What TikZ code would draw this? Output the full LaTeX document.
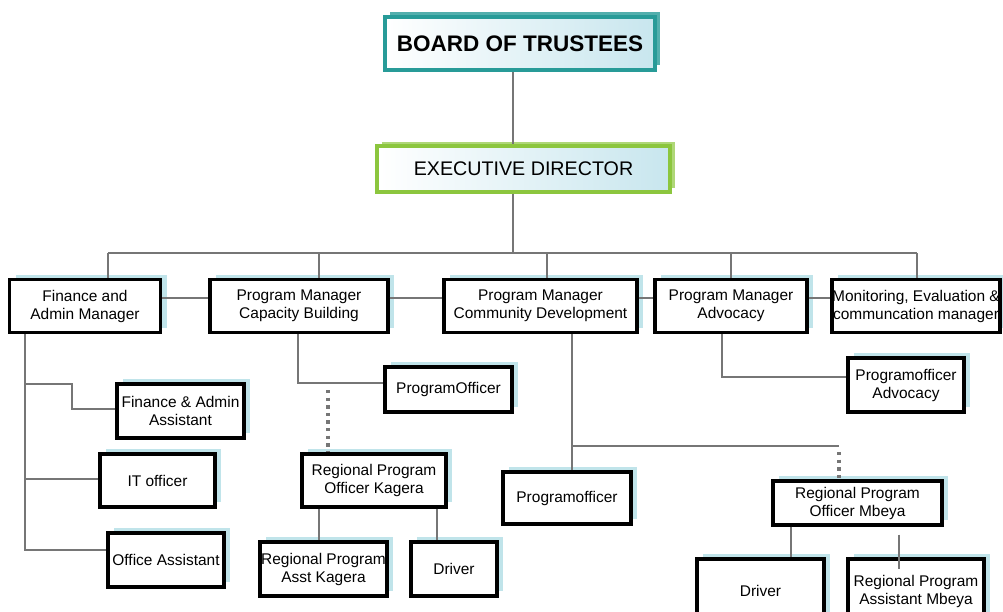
\documentclass[tikz,border=0pt]{standalone}
\usepackage{fontspec}
\setmainfont{Liberation Sans}
\usepackage{tikz}
\usetikzlibrary{positioning, calc, shadows}
\definecolor{shadowblue}{RGB}{192,228,234}
\definecolor{topblue}{RGB}{200,230,238}
\definecolor{boardteal}{RGB}{40,155,152}
\definecolor{execgreen}{RGB}{140,198,62}
\definecolor{linegray}{RGB}{118,118,118}
\tikzset{boxsize/.style 2 args = {
  minimum width=#1*0.025cm,
  minimum height=#2*0.025cm
  }}
\tikzset{rect/.style = {
  rectangle,
  draw=black, line width=2.3pt,
  fill=white,
  text centered, align=center,
  inner xsep=0pt, inner ysep=2pt,
  font=\fontsize{11}{12.8}\selectfont
  }}
\tikzset{block/.style = {
  % Rectangle:
  rect,
  drop shadow={shadow xshift=0.15cm, shadow yshift=0.12cm,
    fill=shadowblue, opacity=1}
  % Text
  }}
\tikzset{head/.style = {
  % Rectangle:
  rect,
  left color=white, right color=topblue,
  line width=2.6pt
  % Text
  }}
\tikzset{link/.style = {
  draw=linegray,
  line width=2pt
  }}
\tikzset{dots/.style = {
  link,
  line width=2.4pt,
  dash pattern=on 2.4pt off 3pt
  }}

\begin{document}
\begin{tikzpicture}[x=0.025cm, y=-0.025cm]
\useasboundingbox (0,0) rectangle (1003,611);
\clip (0,0) rectangle (1003,611);

% NODES
\node (board) [head, boxsize={270}{53}, draw=boardteal,
  drop shadow={shadow xshift=0.12cm, shadow yshift=0.12cm, fill=boardteal!80, opacity=1},
  font=\fontsize{16}{19}\selectfont\bfseries] at (520,43.5) {BOARD OF TRUSTEES};
\node (exec) [head, boxsize={293}{46}, draw=execgreen,
  drop shadow={shadow xshift=0.12cm, shadow yshift=0.1cm, fill=execgreen!70, opacity=1},
  font=\fontsize{14}{17}\selectfont] at (523.5,169) {EXECUTIVE DIRECTOR};

\node (fam) [block, boxsize={151}{53}] at (85,306) {Finance and\\Admin Manager};
\node (pmcb) [block, boxsize={178}{53}] at (299,306) {Program Manager\\Capacity Building};
\node (pmcd) [block, boxsize={193}{53}] at (540.5,306) {Program Manager\\Community Development};
\node (pma) [block, boxsize={152}{53}] at (731,306) {Program Manager\\Advocacy};
\node (mon) [block, boxsize={168}{53}] at (916,306) {Monitoring, Evaluation \&\\communcation manager};

\node (faa) [block, boxsize={127}{54}] at (180.5,411) {Finance \& Admin\\Assistant};
\node (ito) [block, boxsize={115}{53}] at (157.5,480.5) {IT officer};
\node (oa) [block, boxsize={116}{54}] at (166,560) {Office Assistant};

\node (po) [block, boxsize={127}{45}] at (448.5,389.5) {ProgramOfficer};
\node (rpok) [block, boxsize={144}{53}] at (374,480.5) {Regional Program\\Officer Kagera};
\node (rpak) [block, boxsize={127}{54}] at (323.5,569) {Regional Program\\Asst Kagera};
\node (drk) [block, boxsize={86}{54}] at (454,569) {Driver};

\node (pmo) [block, boxsize={128}{52}] at (567,498) {Programofficer};
\node (rpom) [block, boxsize={169}{44}] at (857.5,503) {Regional Program\\Officer Mbeya};
\node (drm) [block, boxsize={127}{64}] at (760.5,591) {Driver};
\node (rpam) [block, boxsize={136}{64}] at (916,591) {Regional Program\\Assistant Mbeya};

\node (poa) [block, boxsize={116}{54}] at (906,385) {Programofficer\\Advocacy};

% COORDINATES
\coordinate (trunk) at (513,253);
\coordinate (fspine) at (25,384);
\coordinate (cbend) at (298,383);
\coordinate (cdbend) at (572,446);

% lines
\draw [link] (board.south -| trunk) -- (exec.north -| trunk);
\draw [link] (exec.south -| trunk) -- (trunk);
\draw [link] (108,253) -- (917,253);
\foreach \n/\x in {fam/108, pmcb/319, pmcd/547, pma/731, mon/917}
  \draw [link] (\x,253) -- (\n.north -| \x,253);

\draw [link] (fam.east |- 0,298) -- (pmcb.west |- 0,298);
\draw [link] (pmcb.east |- 0,298) -- (pmcd.west |- 0,298);
\draw [link] (pmcd.east |- 0,298) -- (pma.west |- 0,298);
\draw [link] (pma.east |- 0,298) -- (mon.west |- 0,298);

% finance
\draw [link] (fam.south -| fspine) |- (oa.west |- 0,550);
\draw [link] (ito.west |- 0,479) -- (fspine |- 0,479);
\draw [link] (faa.west |- 0,409) -| (72,384) -- (fspine);

% capacity building
\draw [link] (pmcb.south -| cbend) -- (cbend) -- (po.west |- cbend);
\draw [dots] (328,390) -- (rpok.north -| 328,0);
\draw [link] (rpok.south -| 319,0) -- (rpak.north -| 319,0);
\draw [link] (rpok.south -| 437,0) -- (drk.north -| 437,0);

% community development
\draw [link] (pmcd.south -| cdbend) -- (pmo.north -| cdbend);
\draw [link] (cdbend) -- (839,446);
\draw [dots] (839,452) -- (rpom.north -| 839,0);
\draw [link] (rpom.south -| 791,0) -- (drm.north -| 791,0);
\draw [link] ([yshift=-0.2cm]rpom.south -| 899,0) -- ([yshift=-0.3cm]rpam.north -| 899,0);

% advocacy
\draw [link] (pma.south -| 722,0) |- (poa.west |- 0,377);
\end{tikzpicture}
\end{document}
